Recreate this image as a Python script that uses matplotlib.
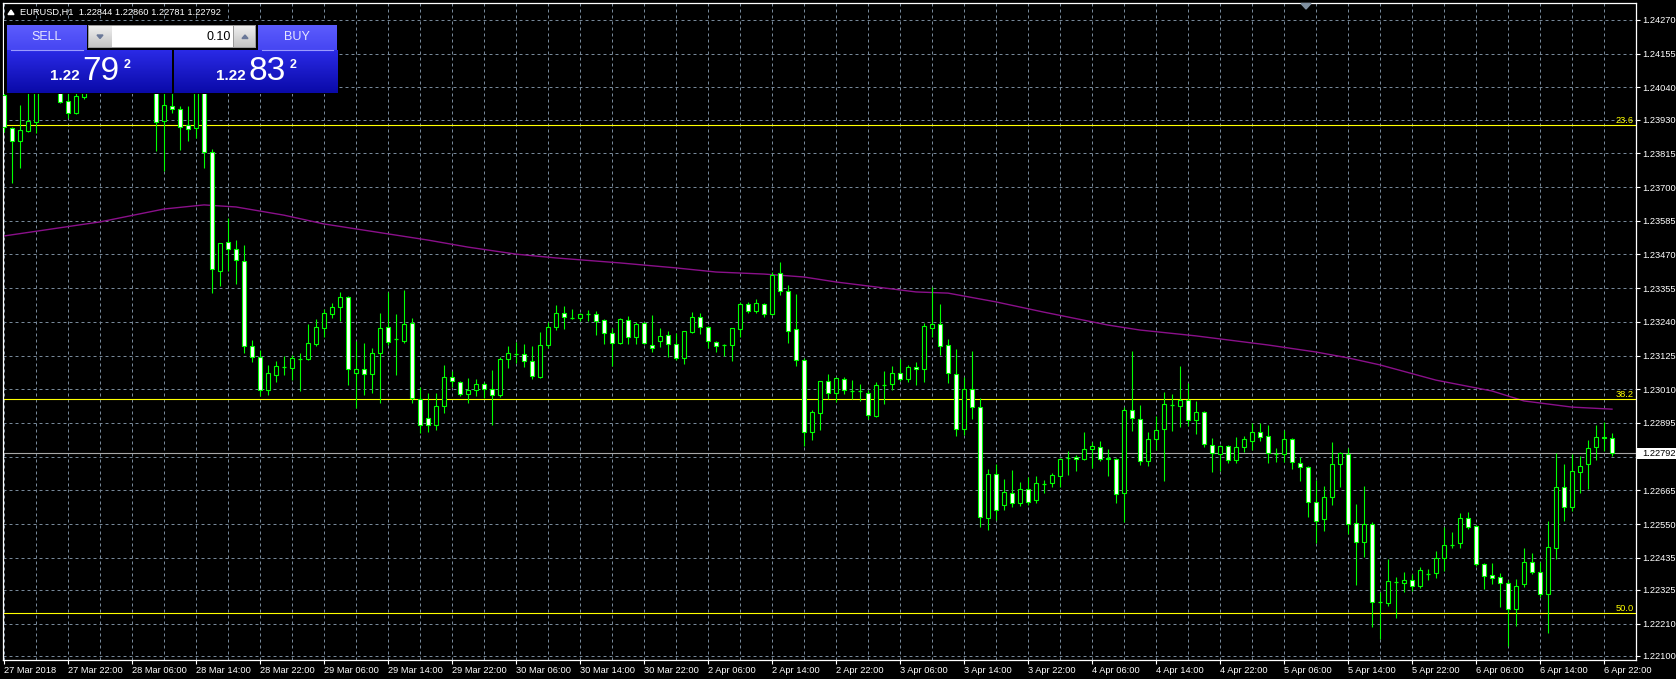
import matplotlib
matplotlib.use('Agg')
import matplotlib.pyplot as plt
import matplotlib.colors as mcolors
import matplotlib.transforms as mtransforms
from matplotlib.patches import Rectangle, Polygon
import numpy as np

W, H, DPI = 1676, 679, 100
FONT = ['Liberation Sans', 'DejaVu Sans']
plt.rcParams['font.family'] = FONT
FS = 6.7

# ---------------- data (EURUSD H1, 27 Mar 14:00 -> 6 Apr 23:00) ----------------
opens = [
    1.24014, 1.23901, 1.23857, 1.23891, 1.23922, 1.24038, 1.24099, 1.24048, 1.23993, 1.23952,
    1.24007, 1.24038, 1.24082, 1.24058, 1.24106, 1.24133, 1.24086, 1.24065, 1.24099, 1.24048,
    1.23925, 1.23976, 1.23966, 1.23911, 1.23901, 1.24038, 1.23819, 1.23413, 1.23512, 1.23488,
    1.23447, 1.23157, 1.23120, 1.23007, 1.23058, 1.23086, 1.23082, 1.23113, 1.23113, 1.23164,
    1.23219, 1.23267, 1.23291, 1.23325, 1.23065, 1.23079, 1.23062, 1.23134, 1.23222, 1.23181,
    1.23175, 1.23236, 1.22977, 1.22912, 1.22888, 1.22953, 1.23052, 1.23035, 1.22994, 1.23007,
    1.23028, 1.23011, 1.22990, 1.23113, 1.23130, 1.23130, 1.23106, 1.23052, 1.23161, 1.23222,
    1.23270, 1.23253, 1.23253, 1.23267, 1.23267, 1.23246, 1.23202, 1.23168, 1.23246, 1.23188,
    1.23236, 1.23161, 1.23175, 1.23195, 1.23164, 1.23117, 1.23205, 1.23256, 1.23222, 1.23171,
    1.23161, 1.23161, 1.23215, 1.23301, 1.23277, 1.23301, 1.23267, 1.23407, 1.23345, 1.23215,
    1.23110, 1.22864, 1.22929, 1.23038, 1.22997, 1.23045, 1.23004, 1.23004, 1.22997, 1.22919,
    1.23024, 1.23028, 1.23065, 1.23045, 1.23086, 1.23079, 1.23219, 1.23233, 1.23161, 1.23062,
    1.22874, 1.23011, 1.22949, 1.22571, 1.22721, 1.22615, 1.22656, 1.22622, 1.22670, 1.22632,
    1.22687, 1.22690, 1.22714, 1.22775, 1.22779, 1.22772, 1.22806, 1.22813, 1.22772, 1.22772,
    1.22656, 1.22939, 1.22908, 1.22765, 1.22840, 1.22874, 1.22956, 1.22953, 1.22973, 1.22905,
    1.22932, 1.22820, 1.22789, 1.22816, 1.22769, 1.22813, 1.22833, 1.22864, 1.22850, 1.22789,
    1.22789, 1.22840, 1.22758, 1.22745, 1.22625, 1.22567, 1.22642, 1.22755, 1.22789, 1.22554,
    1.22489, 1.22550, 1.22284, 1.22281, 1.22352, 1.22349, 1.22359, 1.22339, 1.22380, 1.22383,
    1.22434, 1.22478, 1.22485, 1.22571, 1.22543, 1.22414, 1.22376, 1.22369, 1.22349, 1.22260,
    1.22345, 1.22420, 1.22386, 1.22311, 1.22468, 1.22676, 1.22608, 1.22728, 1.22755, 1.22813,
    1.22847, 1.22844]
highs = [
    1.24031, 1.23905, 1.23980, 1.24048, 1.24051, 1.24126, 1.24133, 1.24065, 1.24021, 1.24038,
    1.24065, 1.24099, 1.24113, 1.24133, 1.24167, 1.24150, 1.24106, 1.24126, 1.24116, 1.24065,
    1.24038, 1.24024, 1.23976, 1.23976, 1.24058, 1.24051, 1.23830, 1.23509, 1.23594, 1.23519,
    1.23502, 1.23178, 1.23144, 1.23093, 1.23106, 1.23123, 1.23127, 1.23134, 1.23233, 1.23250,
    1.23284, 1.23304, 1.23342, 1.23328, 1.23175, 1.23168, 1.23151, 1.23270, 1.23342, 1.23267,
    1.23349, 1.23253, 1.23018, 1.22997, 1.22997, 1.23093, 1.23072, 1.23038, 1.23048, 1.23045,
    1.23035, 1.23076, 1.23120, 1.23157, 1.23171, 1.23164, 1.23157, 1.23205, 1.23239, 1.23297,
    1.23294, 1.23284, 1.23270, 1.23280, 1.23277, 1.23250, 1.23219, 1.23253, 1.23260, 1.23239,
    1.23239, 1.23263, 1.23219, 1.23209, 1.23202, 1.23209, 1.23273, 1.23270, 1.23226, 1.23175,
    1.23164, 1.23219, 1.23308, 1.23308, 1.23318, 1.23304, 1.23410, 1.23444, 1.23366, 1.23335,
    1.23117, 1.22939, 1.23038, 1.23062, 1.23052, 1.23052, 1.23041, 1.23028, 1.23007, 1.23035,
    1.23072, 1.23089, 1.23113, 1.23093, 1.23103, 1.23236, 1.23359, 1.23301, 1.23181, 1.23147,
    1.23052, 1.23140, 1.22980, 1.22738, 1.22755, 1.22704, 1.22735, 1.22693, 1.22710, 1.22714,
    1.22701, 1.22724, 1.22775, 1.22799, 1.22786, 1.22864, 1.22830, 1.22833, 1.22806, 1.22775,
    1.22949, 1.23140, 1.22956, 1.22864, 1.22919, 1.23001, 1.22994, 1.23089, 1.23031, 1.22970,
    1.22936, 1.22844, 1.22820, 1.22820, 1.22847, 1.22850, 1.22895, 1.22895, 1.22888, 1.22809,
    1.22871, 1.22844, 1.22779, 1.22748, 1.22701, 1.22680, 1.22830, 1.22796, 1.22809, 1.22618,
    1.22680, 1.22557, 1.22318, 1.22431, 1.22369, 1.22386, 1.22380, 1.22403, 1.22397, 1.22458,
    1.22540, 1.22523, 1.22588, 1.22591, 1.22546, 1.22417, 1.22417, 1.22383, 1.22359, 1.22362,
    1.22468, 1.22451, 1.22420, 1.22560, 1.22792, 1.22755, 1.22789, 1.22782, 1.22837, 1.22888,
    1.22898, 1.22860]
lows = [
    1.23888, 1.23714, 1.23765, 1.23888, 1.23884, 1.24024, 1.24031, 1.23987, 1.23935, 1.23949,
    1.24000, 1.24024, 1.24038, 1.24045, 1.24089, 1.24065, 1.24045, 1.24038, 1.24031, 1.23823,
    1.23755, 1.23952, 1.23826, 1.23857, 1.23867, 1.23765, 1.23338, 1.23362, 1.23413, 1.23369,
    1.23134, 1.23103, 1.22987, 1.22990, 1.23035, 1.23058, 1.23041, 1.23004, 1.23110, 1.23157,
    1.23188, 1.23253, 1.23243, 1.23024, 1.22946, 1.22990, 1.22997, 1.22963, 1.23161, 1.23058,
    1.23168, 1.22963, 1.22861, 1.22864, 1.22871, 1.22929, 1.23018, 1.22987, 1.22963, 1.22987,
    1.22980, 1.22888, 1.22983, 1.23082, 1.23099, 1.23086, 1.23045, 1.23048, 1.23151, 1.23212,
    1.23215, 1.23250, 1.23243, 1.23243, 1.23195, 1.23164, 1.23089, 1.23164, 1.23164, 1.23164,
    1.23164, 1.23137, 1.23154, 1.23120, 1.23110, 1.23096, 1.23202, 1.23198, 1.23151, 1.23137,
    1.23123, 1.23106, 1.23188, 1.23270, 1.23270, 1.23256, 1.23263, 1.23331, 1.23168, 1.23089,
    1.22816, 1.22837, 1.22871, 1.22977, 1.22966, 1.22994, 1.22977, 1.22970, 1.22908, 1.22915,
    1.22960, 1.23007, 1.23038, 1.23035, 1.23024, 1.23035, 1.23188, 1.23127, 1.23031, 1.22850,
    1.22854, 1.22908, 1.22540, 1.22530, 1.22564, 1.22598, 1.22608, 1.22612, 1.22615, 1.22622,
    1.22656, 1.22676, 1.22676, 1.22717, 1.22731, 1.22768, 1.22741, 1.22765, 1.22714, 1.22622,
    1.22557, 1.22867, 1.22751, 1.22748, 1.22803, 1.22697, 1.22867, 1.22881, 1.22884, 1.22857,
    1.22813, 1.22728, 1.22731, 1.22758, 1.22758, 1.22796, 1.22803, 1.22833, 1.22758, 1.22762,
    1.22762, 1.22738, 1.22697, 1.22574, 1.22485, 1.22526, 1.22615, 1.22676, 1.22516, 1.22342,
    1.22438, 1.22199, 1.22158, 1.22270, 1.22229, 1.22318, 1.22322, 1.22332, 1.22359, 1.22366,
    1.22390, 1.22468, 1.22468, 1.22533, 1.22407, 1.22328, 1.22345, 1.22267, 1.22134, 1.22202,
    1.22335, 1.22380, 1.22301, 1.22178, 1.22431, 1.22560, 1.22594, 1.22656, 1.22670, 1.22769,
    1.22799, 1.22781]
closes = [
    1.23905, 1.23857, 1.23894, 1.23925, 1.24031, 1.24099, 1.24048, 1.23990, 1.23952, 1.24010,
    1.24038, 1.24082, 1.24058, 1.24106, 1.24133, 1.24086, 1.24065, 1.24099, 1.24048, 1.23922,
    1.23980, 1.23966, 1.23905, 1.23898, 1.24038, 1.23819, 1.23420, 1.23509, 1.23488, 1.23451,
    1.23157, 1.23120, 1.23007, 1.23065, 1.23089, 1.23086, 1.23117, 1.23113, 1.23168, 1.23222,
    1.23270, 1.23291, 1.23325, 1.23079, 1.23079, 1.23062, 1.23134, 1.23219, 1.23171, 1.23181,
    1.23233, 1.22980, 1.22888, 1.22888, 1.22953, 1.23052, 1.23038, 1.22994, 1.23007, 1.23028,
    1.23011, 1.22990, 1.23113, 1.23134, 1.23130, 1.23106, 1.23055, 1.23161, 1.23222, 1.23270,
    1.23256, 1.23253, 1.23267, 1.23267, 1.23243, 1.23202, 1.23168, 1.23250, 1.23188, 1.23233,
    1.23168, 1.23151, 1.23192, 1.23164, 1.23117, 1.23209, 1.23256, 1.23222, 1.23175, 1.23157,
    1.23161, 1.23219, 1.23301, 1.23277, 1.23304, 1.23267, 1.23400, 1.23345, 1.23209, 1.23110,
    1.22864, 1.22932, 1.23038, 1.22997, 1.23048, 1.23007, 1.23004, 1.23004, 1.22922, 1.23024,
    1.23024, 1.23065, 1.23045, 1.23086, 1.23079, 1.23226, 1.23233, 1.23157, 1.23065, 1.22874,
    1.23011, 1.22949, 1.22574, 1.22721, 1.22598, 1.22659, 1.22622, 1.22670, 1.22625, 1.22690,
    1.22687, 1.22717, 1.22772, 1.22775, 1.22772, 1.22806, 1.22816, 1.22772, 1.22775, 1.22652,
    1.22939, 1.22912, 1.22765, 1.22840, 1.22871, 1.22960, 1.22956, 1.22973, 1.22905, 1.22932,
    1.22823, 1.22792, 1.22816, 1.22769, 1.22813, 1.22840, 1.22864, 1.22847, 1.22792, 1.22789,
    1.22840, 1.22762, 1.22745, 1.22625, 1.22560, 1.22642, 1.22755, 1.22792, 1.22550, 1.22489,
    1.22550, 1.22284, 1.22284, 1.22356, 1.22352, 1.22359, 1.22339, 1.22393, 1.22380, 1.22434,
    1.22478, 1.22478, 1.22571, 1.22540, 1.22414, 1.22373, 1.22366, 1.22349, 1.22260, 1.22339,
    1.22420, 1.22386, 1.22311, 1.22472, 1.22676, 1.22608, 1.22731, 1.22748, 1.22809, 1.22847,
    1.22845, 1.22792]

# moving average (purple), sampled at bar indices
ma_bars = [0, 12, 20, 25, 29, 35, 40, 53, 58, 64, 69, 77, 84, 89, 95, 100, 104, 109, 114,
           118, 124, 130, 138, 142, 149, 158, 164, 168, 172, 179, 186, 190, 196, 201]
ma_vals = [1.23533, 1.23581, 1.23625, 1.23639, 1.23632, 1.23604, 1.23574, 1.23519, 1.23495,
           1.23471, 1.23458, 1.23441, 1.23424, 1.23410, 1.23403, 1.23393, 1.23376, 1.23359,
           1.23342, 1.23338, 1.23308, 1.23273, 1.23229, 1.23212, 1.23192, 1.23161, 1.23137,
           1.23117, 1.23093, 1.23041, 1.23004, 1.22970, 1.22949, 1.22942]

fib_levels = [1.23912, 1.22977, 1.22247]
fib_labels = ['23.6', '38.2', '50.0']

price_ticks = [1.24270, 1.24155, 1.24040, 1.23930, 1.23815, 1.23700, 1.23585, 1.23470,
               1.23355, 1.23240, 1.23125, 1.23010, 1.22895, 1.22780, 1.22665, 1.22550,
               1.22435, 1.22325, 1.22210, 1.22100]
# the 1.22780 label sits under the bid price box, so it is not shown
price_labels = ['1.24270', '1.24155', '1.24040', '1.23930', '1.23815', '1.23700', '1.23585',
                '1.23470', '1.23355', '1.23240', '1.23125', '1.23010', '1.22895', '',
                '1.22665', '1.22550', '1.22435', '1.22325', '1.22210', '1.22100']

date_bars = list(range(0, 201, 8))
date_labels = ['27 Mar 2018', '27 Mar 22:00', '28 Mar 06:00', '28 Mar 14:00', '28 Mar 22:00',
               '29 Mar 06:00', '29 Mar 14:00', '29 Mar 22:00', '30 Mar 06:00', '30 Mar 14:00',
               '30 Mar 22:00', '2 Apr 06:00', '2 Apr 14:00', '2 Apr 22:00', '3 Apr 06:00',
               '3 Apr 14:00', '3 Apr 22:00', '4 Apr 06:00', '4 Apr 14:00', '4 Apr 22:00',
               '5 Apr 06:00', '5 Apr 14:00', '5 Apr 22:00', '6 Apr 06:00', '6 Apr 14:00',
               '6 Apr 22:00']

symbol_title = 'EURUSD,H1  1.22844 1.22860 1.22781 1.22792'
lot_text = '0.10'
bid_parts = ('1.22', '79', '2')
ask_parts = ('1.22', '83', '2')

# ---------------- figure ----------------
GREEN = '#00ff00'
GRID = '#778899'
fig = plt.figure(figsize=(W / DPI, H / DPI), dpi=DPI, facecolor='black')
ax = fig.add_axes([3 / W, 1 - 660 / H, (1636 - 3) / W, (660 - 3) / H], facecolor='black')
ax.set_xlim(-0.125, 204)
ax.set_ylim(1.22086, 1.24328)

x = np.arange(len(opens))
ax.vlines(x, lows, highs, color=GREEN, lw=0.8, zorder=3)
bw = 0.62
for i in range(len(opens)):
    o, c = opens[i], closes[i]
    if c == o:
        ax.hlines(o, i - bw / 2, i + bw / 2, color=GREEN, lw=0.9, zorder=4)
        continue
    fc = 'black' if c > o else 'white'
    ax.add_patch(Rectangle((i - bw / 2, min(o, c)), bw, abs(c - o), facecolor=fc,
                           edgecolor=GREEN, lw=0.8, zorder=4))

ax.plot(ma_bars, ma_vals, color='#8a108a', lw=1.0, zorder=2)

blend = mtransforms.blended_transform_factory(ax.transAxes, ax.transData)
for lvl, lab in zip(fib_levels, fib_labels):
    ax.axhline(lvl, color='#ffff00', lw=0.8, zorder=2)
    ax.text(0.9985, lvl, lab, transform=blend, ha='right', va='bottom', color='#ffff00',
            fontsize=FS, zorder=5)
ax.axhline(closes[-1], color='#a8a8a8', lw=0.8, zorder=2)

# axes / ticks
ax.yaxis.tick_right()
ax.set_yticks(price_ticks)
ax.set_yticklabels(price_labels)
ax.set_xticks(date_bars)
ax.set_xticklabels(date_labels, ha='left')
ax.set_xticks(np.arange(0, 205, 4), minor=True)
ax.tick_params(axis='both', which='major', colors='white', labelsize=FS, length=3,
               width=0.8, direction='out')
ax.tick_params(axis='x', which='major', pad=1.5)
ax.tick_params(axis='y', which='major', pad=1.5)
ax.tick_params(axis='both', which='minor', length=0)
ax.grid(axis='x', which='both', color=GRID, lw=0.72, linestyle=(0, (3, 3)))
ax.grid(axis='y', which='major', color=GRID, lw=0.72, linestyle=(0, (3, 3)))
ax.set_axisbelow(True)
for s in ax.spines.values():
    s.set_color('white')
    s.set_linewidth(0.9)

# ---------------- overlay (trade panel, header, bid label) ----------------
ov = fig.add_axes([0, 0, 1, 1], zorder=10)
ov.patch.set_alpha(0)


def grad_box(x0, y0, x1, y1, ctop, cbot, z=3):
    c0 = np.array(mcolors.to_rgb(ctop))
    c1 = np.array(mcolors.to_rgb(cbot))
    t = np.linspace(0, 1, 64)[:, None]
    img = (c0 * (1 - t) + c1 * t)[:, None, :]
    ov.imshow(img, extent=[x0, x1, y1, y0], aspect='auto', origin='upper',
              interpolation='bilinear', zorder=z)


ov.add_patch(Rectangle((4, 21), 334, 73, facecolor='black', edgecolor='none', zorder=1))
grad_box(7, 25, 86, 50, '#5c5cfd', '#4646f2')
grad_box(258, 25, 337, 50, '#5c5cfd', '#4646f2')
grad_box(7, 50, 171, 93, '#2a2ae6', '#0a0aa8')
grad_box(174, 50, 337, 93, '#2a2ae6', '#0a0aa8')
ov.plot([11, 83], [49.5, 49.5], color='#9a9aff', lw=0.8, zorder=5)
ov.plot([262, 333], [49.5, 49.5], color='#9a9aff', lw=0.8, zorder=5)
# lot spinner
ov.add_patch(Rectangle((88, 25), 168, 23, facecolor='#9a9a9a', edgecolor='none', zorder=3))
grad_box(89, 26, 111, 47, '#eeeeee', '#c4c4c4', z=4)
grad_box(234, 26, 255, 47, '#eeeeee', '#c4c4c4', z=4)
ov.add_patch(Rectangle((112, 26), 121, 21, facecolor='white', edgecolor='none', zorder=4))
ov.add_patch(Polygon([(97, 35), (103, 35), (100, 38.5)], closed=True, color='#6a7898', zorder=5))
ov.add_patch(Polygon([(242, 38.5), (248, 38.5), (245, 35)], closed=True, color='#6a7898', zorder=5))
ov.text(231, 37, lot_text, ha='right', va='center', color='black', fontsize=9, zorder=6)
ov.text(47, 37.5, 'SELL', ha='center', va='center', color='#e6e6ff', fontsize=9, zorder=6)
ov.text(297, 37.5, 'BUY', ha='center', va='center', color='#e6e6ff', fontsize=9, zorder=6)
for (small, big, sup), xs in ((bid_parts, 81), (ask_parts, 247)):
    ov.text(xs - 1, 80.5, small, ha='right', va='baseline', color='white', fontsize=11,
            fontweight='bold', zorder=6)
    ov.text(xs + 1, 80.5, big, ha='left', va='baseline', color='white', fontsize=24,
            zorder=6)
    ov.text(xs + 43, 68, sup, ha='left', va='baseline', color='white', fontsize=9,
            fontweight='bold', zorder=6)

# header
ov.add_patch(Polygon([(8, 14.5), (14, 14.5), (11, 10)], closed=True, color='white', zorder=6))
ov.text(20, 12.5, symbol_title, ha='left', va='center', color='white', fontsize=FS, zorder=6)
# chart shift marker
ov.add_patch(Polygon([(1301, 3.5), (1311, 3.5), (1306, 9)], closed=True, color='#8090a0', zorder=6))

# bid price box on the price scale
ypix = H - ax.transData.transform((0, closes[-1]))[1]
ov.add_patch(Rectangle((1637, ypix - 5.5), 39, 11.5, facecolor='white', edgecolor='none', zorder=6))
ov.text(1642, ypix + 0.5, '%.5f' % closes[-1], ha='left', va='center', color='black',
        fontsize=FS, zorder=7)

ov.set_xlim(0, W)
ov.set_ylim(H, 0)
ov.axis('off')

fig.savefig('out.png', dpi=DPI, facecolor='black')
